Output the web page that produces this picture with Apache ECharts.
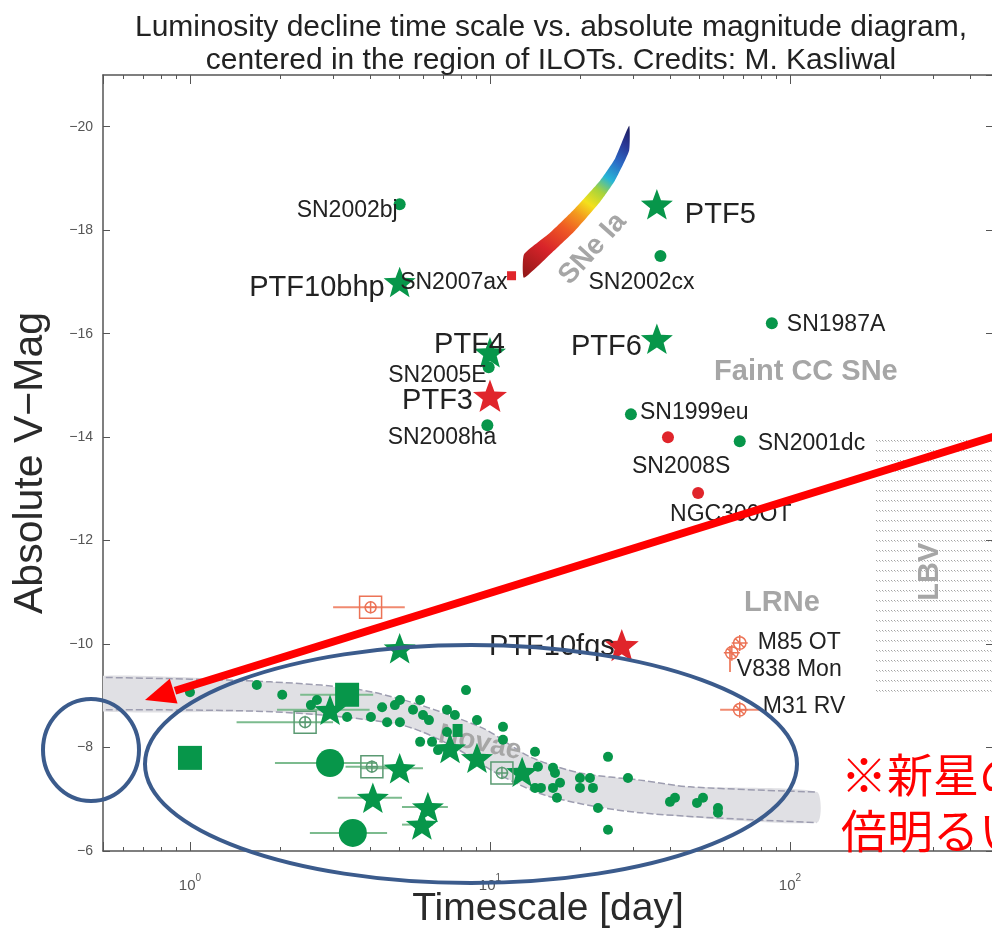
<!DOCTYPE html>
<html><head><meta charset="utf-8">
<script src="https://cdn.jsdelivr.net/npm/echarts@6/dist/echarts.min.js"></script>
<style>html,body{margin:0;padding:0;background:#fff}#c{width:992px;height:932px}</style>
</head><body><div id="c"></div>
<script>
// ---------------- DATA ----------------
const titleLines = ['Luminosity decline time scale vs. absolute magnitude diagram,', 'centered in the region of ILOTs. Credits: M. Kasliwal'];
const xAxisName = 'Timescale [day]';
const yAxisName = 'Absolute V\u2212Mag';
const xRange = [0.513, 475];
const yRange = [-21, -6];

// named green dots
const snNames = ['SN2002bj', 'SN2002cx', 'SN1987A', 'SN2005E', 'SN2008ha', 'SN1999eu', 'SN2001dc'];
const snX = [5.0, 37, 87, 9.9, 9.8, 29.5, 68];
const snY = [-18.5, -17.5, -16.2, -15.35, -14.23, -14.44, -13.92];
// named red dots
const redDotNames = ['SN2008S', 'NGC300OT'];
const redDotX = [39.2, 49.4];
const redDotY = [-14.0, -12.92];
// named red square
const redSqNames = ['SN2007ax'];
const redSqX = [11.8];
const redSqY = [-17.12];
// named green stars (PTF)
const ptfGreenNames = ['PTF10bhp', 'PTF5', 'PTF6', 'PTF4'];
const ptfGreenX = [5.0, 36, 36, 10];
const ptfGreenY = [-17.0, -18.5, -15.9, -15.64];
// named red stars
const ptfRedNames = ['PTF3', 'PTF10fqs'];
const ptfRedX = [10, 27.5];
const ptfRedY = [-14.8, -9.98];
// LRNe (orange circled crosses)
const lrnNames = ['M85 OT', 'V838 Mon', 'M31 RV'];
const lrnX = [68, 64, 68];
const lrnY = [-10.02, -9.83, -8.73];
// orange open square
const orangeSqX = [4.0];
const orangeSqY = [-10.71];

// novae
const novaeDotX = [1.00,1.67,2.03,2.53,2.65,3.34,4.01,4.37,4.54,4.82,5.01,5.01,5.54,5.85,5.98,6.26,7.19,7.64,8.32,9.05,7.19,5.85,6.41,6.71,11.05,11.05,14.13,14.45,16.22,16.47,17.12,16.22,14.13,14.79,16.72,19.95,21.54,19.95,22.04,24.74,22.91,28.84,24.74,39.81,41.37,48.98,51.29,57.54,57.54];
const novaeDotY = [-9.07,-9.21,-9.02,-8.82,-8.92,-8.59,-8.59,-8.78,-8.49,-8.82,-8.92,-8.49,-8.73,-8.92,-8.63,-8.53,-8.73,-8.63,-9.11,-8.53,-8.30,-8.11,-8.11,-7.95,-8.40,-8.15,-7.92,-7.63,-7.61,-7.51,-7.32,-7.22,-7.22,-7.22,-7.03,-7.41,-7.41,-7.22,-7.22,-7.82,-6.83,-7.41,-6.41,-6.95,-7.03,-6.93,-7.03,-6.83,-6.74];
const novaeStarX = [5.0, 2.93, 5.0, 4.07, 6.21, 5.93, 7.36, 9.05, 12.8];
const novaeStarY = [-9.92, -8.73, -7.6, -7.03, -6.85, -6.51, -7.99, -7.80, -7.53];
const novaeCircleX = [2.93, 3.49];
const novaeCircleY = [-7.70, -6.35];
const novaeSquareX = [1.0, 3.34];
const novaeSquareY = [-7.8, -9.02];
const novaeSmallSqX = [7.8];
const novaeSmallSqY = [-8.33];
const novaeOpenX = [2.42, 4.04, 10.96];
const novaeOpenY = [-8.49, -7.63, -7.51];

// error bars (horizontal): low, high, mag
const greenErrLo = [1.92, 2.51, 3.7, 3.11, 5.09, 5.09, 1.43, 3.3, 2.33, 1.95];
const greenErrHi = [4.2, 4.54, 5.98, 5.09, 7.24, 6.45, 3.0, 5.0, 4.08, 3.97];
const greenErrY  = [-7.70, -6.35, -7.60, -7.03, -6.85, -6.51, -8.49, -7.63, -9.02, -8.73];
const orangeErrLo = [3.0, 58.5];
const orangeErrHi = [5.2, 79.4];
const orangeErrY  = [-10.71, -8.73];
// vertical error bar: x, mag low, mag high
const orangeVErrX = [63.1];
const orangeVErrLo = [-9.96];
const orangeVErrHi = [-9.46];

// novae band edges
const novaeUpperX = [0.45, 1.85, 4.08, 9.26, 13.6, 19.95, 31.6, 46.4, 123];
const novaeUpperY = [-9.36, -9.27, -9.07, -8.40, -7.82, -7.51, -7.37, -7.24, -7.14];
const novaeLowerX = [0.45, 1.89, 5.01, 7.36, 10.78, 15.85, 31.6, 123];
const novaeLowerY = [-8.73, -8.69, -8.44, -8.05, -7.47, -7.05, -6.74, -6.55];

// SNe Ia band
const snIaX = [12.98, 15.85, 19.2, 23.3, 26.1, 29.1];
const snIaUpper = [-17.53, -17.95, -18.42, -18.96, -19.38, -20.02];
const snIaLower = [-17.08, -17.53, -17.99, -18.55, -18.96, -19.54];

// LBV region
const lbvX = [192, 600];
const lbvY = [-14.03, -9.0];

// region labels
const regionNames = ['Faint CC SNe', 'LRNe', 'LBV', 'SNe Ia', 'Novae'];
const regionX = [113, 94, 293, 22.0, 9.26];
const regionY = [-15.25, -10.79, -11.4, -17.64, -8.09];

// annotation text
const noteLines = ['\u203B\u65B0\u661F\u306E', '\u500D\u660E\u308B\u3044'];

// ---------------- STYLE ----------------
const FONT = 'Liberation Sans, Arial, Helvetica, sans-serif';
const GREEN = '#07964a';
const RED = '#e0252b';
const ORANGE = '#ec7356';
const TEXT = '#222';
const AXIS = '#555';
const REGION_GRAY = '#a6a6a6';
const STAR = 'path://M50,0 L62.3,33 L97.55,34.55 L70,56.5 L79.39,90.45 L50,71 L20.61,90.45 L30,56.5 L2.45,34.55 L37.7,33 Z';
const SQ_CROSS = 'path://M0,0H24V24H0Z M6,12A6,6 0 1 0 18,12A6,6 0 1 0 6,12Z M12,5V19 M5,12H19';
const CIRC_CROSS = 'path://M2,9A7,7 0 1 0 16,9A7,7 0 1 0 2,9Z M9,0V18 M0,9H18 M4,4L14,14';

const labelStyle = {
  'SN2002bj': {align:'right', offset:[-2,6], fontSize:23},
  'SN2002cx': {align:'left', offset:[-72,27], fontSize:23},
  'SN1987A': {align:'left', offset:[15,1], fontSize:23},
  'SN2005E': {align:'right', offset:[-2,8], fontSize:23},
  'SN2008ha': {align:'right', offset:[9,12], fontSize:23},
  'SN1999eu': {align:'left', offset:[9,-2], fontSize:23},
  'SN2001dc': {align:'left', offset:[18,2], fontSize:23},
  'SN2008S': {align:'left', offset:[-36,30], fontSize:23},
  'NGC300OT': {align:'left', offset:[-28,22], fontSize:23},
  'SN2007ax': {align:'right', offset:[-4,7], fontSize:23},
  'PTF10bhp': {align:'right', offset:[-15,6], fontSize:29},
  'PTF5': {align:'left', offset:[28,11], fontSize:29},
  'PTF6': {align:'right', offset:[-15,8], fontSize:29},
  'PTF4': {align:'right', offset:[15,-7], fontSize:29},
  'PTF3': {align:'right', offset:[-17,5], fontSize:29},
  'PTF10fqs': {align:'right', offset:[-7,2], fontSize:29},
  'M85 OT': {align:'left', offset:[18,0], fontSize:23},
  'V838 Mon': {align:'left', offset:[5,17], fontSize:23},
  'M31 RV': {align:'left', offset:[23,-3], fontSize:23}
};
const regionStyle = {
  'Faint CC SNe': {rot:0, size:29},
  'LRNe': {rot:0, size:29},
  'LBV': {rot:90, size:29},
  'SNe Ia': {rot:48, size:28},
  'Novae': {rot:-12, size:28}
};

// ---------------- BUILD ----------------
function pts(xs, ys) { return xs.map((x, i) => [x, ys[i]]); }
function named(names, xs, ys) {
  return names.map((n, i) => ({
    name: n, value: [xs[i], ys[i]],
    label: Object.assign({show: true, position: 'inside', formatter: '{b}', color: TEXT,
      fontFamily: FONT, verticalAlign: 'middle', textBorderWidth: 0, opacity: 1}, labelStyle[n])
  }));
}
function hBars(lo, hi, y, color) {
  return {type: 'custom', coordinateSystem: 'cartesian2d', z: 3, clip: true, silent: true,
    data: lo.map((v, i) => [v, hi[i], y[i]]), encode: {x: [0, 1], y: 2},
    renderItem: (p, api) => {
      const a = api.coord([api.value(0), api.value(2)]);
      const b = api.coord([api.value(1), api.value(2)]);
      return {type: 'line', shape: {x1: a[0], y1: a[1], x2: b[0], y2: b[1]}, style: {stroke: color, lineWidth: 2}};
    }};
}
function vBars(x, lo, hi, color) {
  return {type: 'custom', coordinateSystem: 'cartesian2d', z: 3, clip: true, silent: true,
    data: x.map((v, i) => [v, lo[i], hi[i]]), encode: {x: 0, y: [1, 2]},
    renderItem: (p, api) => {
      const a = api.coord([api.value(0), api.value(1)]);
      const b = api.coord([api.value(0), api.value(2)]);
      return {type: 'line', shape: {x1: a[0], y1: a[1], x2: b[0], y2: b[1]}, style: {stroke: color, lineWidth: 2}};
    }};
}
function sc(data, symbol, size, itemStyle, extra) {
  return Object.assign({type: 'scatter', z: 4, data: data, symbol: symbol, symbolSize: size,
    symbolKeepAspect: true, itemStyle: Object.assign({opacity: 1}, itemStyle),
    emphasis: {disabled: true}}, extra || {});
}

// dotted pattern for LBV
const pc = document.createElement('canvas');
pc.width = 3; pc.height = 10;
const pg = pc.getContext('2d');
pg.fillStyle = 'rgba(100,100,100,0.6)';
pg.fillRect(0, 0, 1, 1);
pg.fillStyle = 'rgba(100,100,100,0.35)';
pg.fillRect(1, 1, 1, 1);

const chart = echarts.init(document.getElementById('c'), null, {renderer: 'canvas'});

const xAxisCommon = {
  type: 'log', logBase: 10, min: xRange[0], max: xRange[1],
  splitLine: {show: false}, minorSplitLine: {show: false},
  axisLine: {show: true, lineStyle: {color: AXIS, width: 1.5}},
  axisTick: {show: true, inside: true, length: 9, lineStyle: {color: AXIS, width: 1}},
  minorTick: {show: true, splitNumber: 9, length: 4, lineStyle: {color: AXIS, width: 1}}
};
const yAxisCommon = {
  type: 'value', inverse: true, min: yRange[0], max: yRange[1], splitNumber: 7,
  splitLine: {show: false},
  axisLine: {show: true, lineStyle: {color: AXIS, width: 1.5}},
  axisTick: {show: true, inside: true, length: 7, lineStyle: {color: AXIS, width: 1}}
};

const option = {
  backgroundColor: '#fff',
  animation: false,
  title: {
    text: titleLines.join('\n'), left: 546, top: 6, textAlign: 'center',
    textStyle: {fontSize: 30, lineHeight: 33, fontWeight: 'normal', color: '#222', fontFamily: FONT}
  },
  grid: {left: 103, top: 75, width: 890, height: 776, containLabel: false, outerBoundsMode: 'none'},
  xAxis: [
    Object.assign({}, xAxisCommon, {
      position: 'bottom',
      name: xAxisName, nameLocation: 'middle', nameGap: 39, nameMoveOverlap: false,
      nameTextStyle: {fontSize: 39, color: '#2a2a2a', fontFamily: FONT},
      axisLabel: {
        show: true, showMinLabel: false, showMaxLabel: false, margin: 22,
        formatter: v => '{b|10}{s|' + Math.round(Math.log10(v)) + '}',
        rich: {
          b: {fontSize: 15, color: AXIS, fontFamily: FONT, lineHeight: 20, verticalAlign: 'bottom'},
          s: {fontSize: 10, color: AXIS, fontFamily: FONT, lineHeight: 20, verticalAlign: 'top'}
        }
      }
    }),
    Object.assign({}, xAxisCommon, {position: 'top', axisLabel: {show: false}})
  ],
  yAxis: [
    Object.assign({}, yAxisCommon, {
      position: 'left',
      name: yAxisName, nameLocation: 'middle', nameGap: 52, nameRotate: 90, nameMoveOverlap: false,
      nameTextStyle: {fontSize: 41, color: '#2a2a2a', fontFamily: FONT},
      axisLabel: {show: true, showMinLabel: false, margin: 10, color: AXIS, fontSize: 14, fontFamily: FONT,
        formatter: v => (v < 0 ? '\u2212' : '') + Math.abs(v)}
    }),
    Object.assign({}, yAxisCommon, {position: 'right', axisLabel: {show: false}})
  ],
  series: [
    // novae band
    {type: 'custom', coordinateSystem: 'cartesian2d', z: 1, clip: true, silent: true, data: [0],
      renderItem: (p, api) => {
        const up = novaeUpperX.map((x, i) => api.coord([x, novaeUpperY[i]]));
        const lo = novaeLowerX.map((x, i) => api.coord([x, novaeLowerY[i]]));
        return {type: 'group', children: [
          {type: 'polygon', shape: {points: up.concat(lo.slice().reverse()), smooth: 0.2}, style: {fill: '#e0e0e4'}},
          {type: 'polyline', shape: {points: up, smooth: 0.3}, style: {stroke: '#9d9db0', lineWidth: 1.5, lineDash: [7, 3], fill: null}},
          {type: 'polyline', shape: {points: lo, smooth: 0.3}, style: {stroke: '#9d9db0', lineWidth: 1.5, lineDash: [7, 3], fill: null}}
        ]};
      }},
    // LBV region
    {type: 'custom', coordinateSystem: 'cartesian2d', z: 1, clip: true, silent: true, data: [0],
      renderItem: (p, api) => {
        const a = api.coord([lbvX[0], lbvY[0]]);
        const b = api.coord([lbvX[1], lbvY[1]]);
        return {type: 'rect', shape: {x: a[0], y: a[1], width: b[0] - a[0], height: b[1] - a[1]},
          style: {fill: {image: pc, repeat: 'repeat'}}};
      }},
    // SNe Ia band
    {type: 'custom', coordinateSystem: 'cartesian2d', z: 2, clip: true, silent: true, data: [0],
      renderItem: (p, api) => {
        const up = snIaX.map((x, i) => api.coord([x, snIaUpper[i]]));
        const lo = snIaX.map((x, i) => api.coord([x, snIaLower[i]]));
        return {type: 'polygon', shape: {points: up.concat(lo.slice().reverse()), smooth: 0.15},
          style: {fill: {type: 'linear', x: 0, y: 1, x2: 1, y2: 0, colorStops: [
            {offset: 0, color: '#8e1717'}, {offset: 0.2, color: '#d8242a'}, {offset: 0.35, color: '#ef5a24'},
            {offset: 0.45, color: '#f39a1e'}, {offset: 0.53, color: '#f4e11c'}, {offset: 0.62, color: '#a6d33c'},
            {offset: 0.7, color: '#27b6d6'}, {offset: 0.8, color: '#2c6cc6'}, {offset: 0.9, color: '#2a3896'},
            {offset: 1, color: '#1b1b5a'}]}}};
      }},
    // region labels
    {type: 'custom', coordinateSystem: 'cartesian2d', z: 2, clip: false, silent: true,
      data: pts(regionX, regionY),
      renderItem: (p, api) => {
        const n = regionNames[p.dataIndex];
        const s = regionStyle[n];
        const c = api.coord([api.value(0), api.value(1)]);
        return {type: 'text', x: c[0], y: c[1], rotation: s.rot * Math.PI / 180,
          style: {text: n, fill: REGION_GRAY, fontSize: s.size, fontWeight: 'bold', fontFamily: FONT,
            align: 'center', verticalAlign: 'middle'}};
      }},
    hBars(greenErrLo, greenErrHi, greenErrY, '#7cbb8e'),
    hBars(orangeErrLo, orangeErrHi, orangeErrY, '#f08a70'),
    vBars(orangeVErrX, orangeVErrLo, orangeVErrHi, '#f08a70'),
    // novae points
    sc(pts(novaeDotX, novaeDotY), 'circle', 10, {color: GREEN}),
    sc(pts(novaeSquareX, novaeSquareY), 'rect', 24, {color: GREEN}),
    sc(pts(novaeSmallSqX, novaeSmallSqY), 'rect', [10, 13], {color: GREEN}),
    sc(pts(novaeCircleX, novaeCircleY), 'circle', 28, {color: GREEN}),
    sc(pts(novaeStarX, novaeStarY), STAR, 32, {color: GREEN}),
    sc(pts(novaeOpenX, novaeOpenY), SQ_CROSS, 22, {color: 'rgba(0,0,0,0)', borderColor: '#5a9a72', borderWidth: 1.5}),
    sc(pts(orangeSqX, orangeSqY), SQ_CROSS, 22, {color: 'rgba(0,0,0,0)', borderColor: ORANGE, borderWidth: 1.5}),
    // named objects
    sc(named(snNames, snX, snY), 'circle', 12, {color: GREEN}, {z: 5}),
    sc(named(redDotNames, redDotX, redDotY), 'circle', 12, {color: RED}, {z: 5}),
    sc(named(redSqNames, redSqX, redSqY), 'rect', 9, {color: RED}, {z: 5}),
    sc(named(ptfGreenNames, ptfGreenX, ptfGreenY), STAR, 32, {color: GREEN}, {z: 5}),
    sc(named(ptfRedNames, ptfRedX, ptfRedY), STAR, 34, {color: RED}, {z: 5}),
    sc(named(lrnNames, lrnX, lrnY), CIRC_CROSS, 16, {color: 'rgba(0,0,0,0)', borderColor: ORANGE, borderWidth: 1.5}, {z: 5})
  ],
  graphic: [
    {type: 'ellipse', z: 100, silent: true, shape: {cx: 91, cy: 750, rx: 48, ry: 51}, style: {fill: 'none', stroke: '#3b5b8c', lineWidth: 4}},
    {type: 'ellipse', z: 100, silent: true, shape: {cx: 471, cy: 764, rx: 326, ry: 119}, style: {fill: 'none', stroke: '#3b5b8c', lineWidth: 4}},
    {type: 'line', z: 101, silent: true, shape: {x1: 1000, y1: 434.6, x2: 175, y2: 690.8}, style: {stroke: '#ff0000', lineWidth: 8}},
    {type: 'polygon', z: 101, silent: true, shape: {points: [[145, 700], [177.5, 703.5], [169.8, 678.7]]}, style: {fill: '#ff0000'}},
    {type: 'text', z: 101, silent: true, x: 841, y: 752, style: {text: noteLines[0], fill: '#ff0000', fontSize: 46, fontFamily: 'Noto Sans CJK JP', verticalAlign: 'top'}},
    {type: 'text', z: 101, silent: true, x: 841, y: 808, style: {text: noteLines[1], fill: '#ff0000', fontSize: 46, fontFamily: 'Noto Sans CJK JP', verticalAlign: 'top'}}
  ]
};
chart.setOption(option);
</script>
</body></html>
